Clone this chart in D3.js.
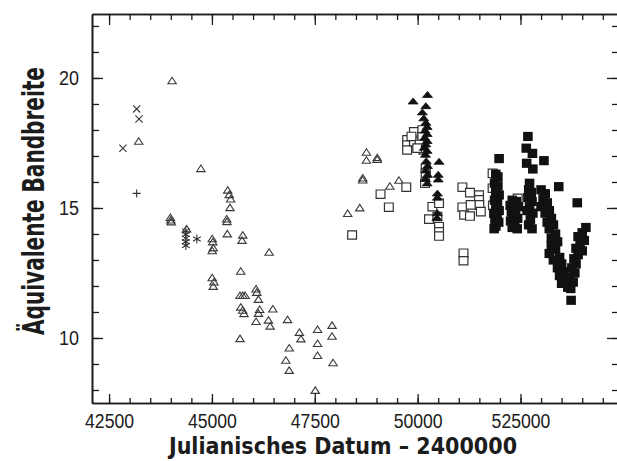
<!DOCTYPE html>
<html><head><meta charset="utf-8">
<script src="https://cdn.jsdelivr.net/npm/d3@7"></script>
<style>
html,body{margin:0;padding:0;background:#fff;}
svg{display:block;}
</style></head>
<body>
<script>
// ---------- data ----------
const xTickValues = [42500, 45000, 47500, 50000, 52500];
const xTickLabels = ["42500", "45000", "47500", "50000", "525000"];
const yTickValues = [10, 15, 20];
const yTickLabels = ["10", "15", "20"];
const xTitle = "Julianisches Datum \u2013 2400000";
const yTitle = "\u00C4quivalente Bandbreite";

const crossPts = [[42837,17.30],[43171,18.81],[43227,18.42]];
const plusPts = [[43171,15.56]];
const starPts = [[44366,14.12],[44366,13.98],[44366,13.84],[44366,13.70],[44366,13.56],[44634,13.81]];
const openTriPts = [
 [44032,19.88],[43220,17.55],[44732,16.50],[43990,14.62],[44000,14.52],[44010,14.45],
 [45383,15.67],[45422,15.50],[45456,15.33],[45439,15.00],[45359,14.56],[45365,14.46],
 [44383,14.18],[45007,13.80],[45020,13.68],[45032,13.45],[45007,13.34],[45373,13.99],
 [45749,13.94],[45731,13.74],[46390,13.28],[45700,12.55],[45007,12.30],[45049,12.14],
 [45032,11.97],[45683,11.62],[45749,11.62],[45805,11.62],[45700,11.17],[45749,11.05],
 [45780,10.92],[46073,11.87],[46090,11.74],[46130,11.47],[46160,11.08],[46130,10.93],
 [46073,10.62],[46373,10.67],[46415,10.44],[46480,11.10],[45683,9.96],[46837,10.69],
 [47125,10.20],[47163,9.95],[46880,9.60],[46797,9.13],[46878,8.74],[47568,10.31],
 [47568,9.77],[47568,9.31],[47920,10.47],[47920,10.05],[47944,9.03],[47512,7.97],
 [48756,17.13],[48756,16.82],[49017,16.85],[49017,16.92],[48666,16.14],[48666,16.06],
 [49325,15.82],[49544,16.05],[48593,14.99],[48300,14.77]
];
const openSqPts = [
 [48407,13.96],[49098,15.53],[49300,15.03],[49724,15.80],
 [49745,17.62],[49745,17.42],[49745,17.23],[49910,17.93],[49910,17.55],[49850,17.75],
 [50115,18.00],[50115,17.74],[50140,17.23],[50050,17.45],[49990,17.30],
 [50195,16.53],[50195,16.33],[50180,15.95],[50358,15.05],[50520,15.18],[50276,14.57],
 [50480,14.67],[50520,14.28],[50520,14.08],[50520,13.92],
 [51087,15.80],[51272,15.59],[51492,15.50],[51492,15.31],[51500,15.12],[51087,15.03],
 [51290,15.12],[51130,14.73],[51272,14.69],[51536,14.86],[51115,13.26],[51115,12.97],
 [51822,16.33],[51822,15.76],[51860,14.80],[52432,15.37],[51830,15.10]
];
const filledTriPts = [
 [49890,19.10],[50240,19.35],[50200,18.92],[50115,18.68],[50150,18.45],[50200,18.28],
 [50230,18.12],[50180,17.98],[50230,17.85],[50170,17.70],[50230,17.58],[50200,17.45],
 [50160,17.32],[50230,17.20],[50190,17.05],[50210,16.80],[50240,16.62],[50200,16.45],
 [50240,16.28],[50190,16.12],[50230,15.95],[50520,16.78],[50500,16.28],[50500,16.10],
 [50480,15.56],[50480,15.40],[50480,14.80],[50470,14.62]
];
const filledSqPts = [
 [51980,16.90],[51900,16.30],[51950,16.20],[51870,15.95],[51950,15.85],[51900,15.60],
 [51980,15.50],[51870,15.30],[51940,15.20],[51900,15.00],[51980,14.90],[51860,14.80],
 [51930,14.70],[51880,14.50],[51970,14.45],[51900,14.30],[51860,14.20],
 [52300,15.30],[52400,15.25],[52250,15.10],[52350,15.00],[52450,15.05],[52280,14.85],
 [52380,14.80],[52320,14.65],[52430,14.60],[52260,14.50],[52360,14.40],[52300,14.25],
 [52420,14.20],
 [52680,17.75],[52640,17.30],[52790,17.10],[52650,16.72],[52800,16.50],[53070,16.82],
 [52720,15.95],[52700,15.70],[52760,15.60],[52680,15.40],[52780,15.25],[52720,15.05],
 [52660,14.90],[52800,14.80],[52740,14.55],[52700,14.35],[52780,14.20],
 [53000,15.70],[53100,15.55],[53430,15.82],[53050,15.35],[53150,15.20],[53000,15.05],
 [53200,14.90],[53100,14.80],[53250,14.60],[53150,14.45],[53300,14.35],[53200,14.20],
 [53350,14.00],[53250,13.85],[53400,13.70],[53300,13.55],
 [53250,13.55],[53350,13.40],[53200,13.25],[53450,13.10],[53300,13.00],[53500,12.85],
 [53400,12.70],[53550,12.55],[53450,12.40],[53600,12.25],[53500,12.10],[53650,11.95],
 [53880,15.20],[54090,14.25],[54000,14.05],[53900,13.90],[54050,13.75],[53950,13.60],
 [53850,13.45],[54000,13.35],[53900,13.20],[53800,13.05],[53850,12.85],[53750,12.70],
 [53820,12.50],[53700,12.35],[53780,12.15],[53720,11.90],[53730,11.45]
];

// ---------- chart ----------
(function () {
const W = 617, H = 461;
const svg = d3.select("body").append("svg").attr("width", W).attr("height", H);
const ink = "#1c1c1c";
const pL = 92, pR = 618, pT = 14, pB = 403;

const x = d3.scaleLinear().domain([42085, 54870]).range([pL, pR]);
const y = d3.scaleLinear().domain([7.5, 22.46]).range([pB, pT]);

const fontNum = "'Liberation Sans',Arial,sans-serif";
const fontTitle = "'DejaVu Sans Condensed','Liberation Sans',sans-serif";

function styleAxis(g) {
  g.selectAll(".domain").attr("stroke", ink).attr("stroke-width", 1.6);
  g.selectAll(".tick line").attr("stroke", ink).attr("stroke-width", 1.3);
  g.selectAll("text").attr("fill", ink).attr("font-family", fontNum).attr("font-size", 20);
}

const xMinor = d3.range(42500, 54900, 500);
const yMinor = d3.range(8, 23, 1);

svg.append("g").attr("transform", `translate(0,${pB})`)
  .call(d3.axisBottom(x).tickValues(xMinor).tickSizeInner(-5).tickSizeOuter(0).tickFormat(""))
  .call(styleAxis);
const bx = svg.append("g").attr("transform", `translate(0,${pB})`)
  .call(d3.axisBottom(x).tickValues(xTickValues).tickSizeInner(-9).tickSizeOuter(0)
    .tickPadding(25).tickFormat((d, i) => xTickLabels[i]))
  .call(styleAxis);
bx.selectAll("text").attr("dy", 0)
  .attr("textLength", (d, i) => xTickLabels[i].length * 9.8).attr("lengthAdjust", "spacingAndGlyphs");

svg.append("g").attr("transform", `translate(0,${pT})`)
  .call(d3.axisTop(x).tickValues(xMinor).tickSizeInner(-6).tickSizeOuter(0).tickFormat(""))
  .call(styleAxis);
svg.append("g").attr("transform", `translate(0,${pT})`)
  .call(d3.axisTop(x).tickValues(xTickValues).tickSizeInner(-11).tickSizeOuter(0).tickFormat(""))
  .call(styleAxis);

svg.append("g").attr("transform", `translate(${pL},0)`)
  .call(d3.axisLeft(y).tickValues(yMinor).tickSizeInner(-7).tickSizeOuter(0).tickFormat(""))
  .call(styleAxis);
const ly = svg.append("g").attr("transform", `translate(${pL},0)`)
  .call(d3.axisLeft(y).tickValues(yTickValues).tickSizeInner(-11).tickSizeOuter(0)
    .tickPadding(13).tickFormat((d, i) => yTickLabels[i]))
  .call(styleAxis);
ly.selectAll("text").attr("textLength", (d, i) => yTickLabels[i].length * 10).attr("lengthAdjust", "spacingAndGlyphs");

svg.append("g").attr("transform", `translate(${pR},0)`)
  .call(d3.axisRight(y).tickValues(yMinor).tickSizeInner(-6).tickSizeOuter(0).tickFormat(""))
  .call(styleAxis);
svg.append("g").attr("transform", `translate(${pR},0)`)
  .call(d3.axisRight(y).tickValues(yTickValues).tickSizeInner(-11).tickSizeOuter(0).tickFormat(""))
  .call(styleAxis);

// titles: squeeze horizontally with a scale transform to the measured widths
function title(txt, size, cx, cy, rot, targetW) {
  const t = svg.append("text")
    .attr("text-anchor", "middle")
    .attr("font-family", fontTitle)
    .attr("font-weight", "bold").attr("font-size", size).attr("fill", ink)
    .text(txt);
  const nat = t.node().getComputedTextLength() || targetW;
  const sx = Math.min(1, targetW / nat);
  t.attr("transform", `translate(${cx},${cy}) rotate(${rot}) scale(${sx},1)`);
}
title(xTitle, 23, 343, 454, 0, 354);
title(yTitle, 30, 44, 201, -90, 268);

const triOpen = { draw(c) { c.moveTo(0, -3.9); c.lineTo(4.2, 2.6); c.lineTo(-4.2, 2.6); c.closePath(); } };
const triFill = { draw(c) { c.moveTo(0, -3.4); c.lineTo(5, 2.6); c.lineTo(-5, 2.6); c.closePath(); } };
const sqOpen = { draw(c) { c.rect(-4.4, -4.2, 8.8, 8.4); } };
const sqFill = { draw(c) { c.rect(-4.8, -4.6, 9.6, 9.2); } };
const xMark = { draw(c) { c.moveTo(-3.6, -3.6); c.lineTo(3.6, 3.6); c.moveTo(3.6, -3.6); c.lineTo(-3.6, 3.6); } };
const plusMark = { draw(c) { c.moveTo(-4, 0); c.lineTo(4, 0); c.moveTo(0, -4); c.lineTo(0, 4); } };
const starMark = { draw(c) {
  c.moveTo(0, -4.5); c.lineTo(0, 4.5);
  c.moveTo(-3.9, -2.25); c.lineTo(3.9, 2.25);
  c.moveTo(3.9, -2.25); c.lineTo(-3.9, 2.25);
} };

function plot(data, type, fill, stroke, sw) {
  svg.append("g").selectAll("path").data(data).join("path")
    .attr("transform", d => `translate(${x(d[0])},${y(d[1])})`)
    .attr("d", d3.symbol().type(type)())
    .attr("fill", fill).attr("stroke", stroke).attr("stroke-width", sw);
}

plot(openTriPts, triOpen, "none", "#3a3a3a", 1.1);
plot(openSqPts, sqOpen, "#fff", "#333", 1.2);
plot(filledTriPts, triFill, "#111", "#111", 0.8);
plot(filledSqPts, sqFill, "#111", "none", 0);
plot(crossPts, xMark, "none", "#333", 1.1);
plot(plusPts, plusMark, "none", "#333", 1.1);
plot(starPts, starMark, "none", "#333", 1.1);
})();
</script>
</body></html>
